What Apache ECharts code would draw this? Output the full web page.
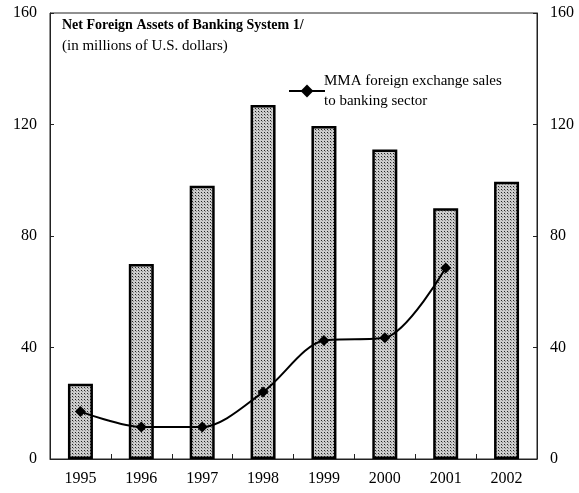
<!DOCTYPE html>
<html>
<head>
<meta charset="utf-8">
<script src="https://cdn.jsdelivr.net/npm/echarts@6/dist/echarts.min.js"></script>
<style>
  html, body { margin: 0; padding: 0; background: #fff; }
  #chart { width: 579px; height: 493px; }
</style>
</head>
<body>
<div id="chart"></div>
<script>
const years = ['1995', '1996', '1997', '1998', '1999', '2000', '2001', '2002'];
const netForeignAssets = [27, 70, 98, 127, 119.5, 111, 90, 99.5];
const mmaSales = [17, 11.5, 11.5, 24, 42.5, 43.5, 68.5, null];
const yTicks = [0, 40, 80, 120, 160];

// dotted fill like the printed screen
function dotPattern() {
    const c = document.createElement('canvas');
    c.width = 3;
    c.height = 3;
    const ctx = c.getContext('2d');
    ctx.fillStyle = '#cccccc';
    ctx.fillRect(0, 0, 3, 3);
    ctx.fillStyle = '#222';
    ctx.fillRect(0, 0, 1, 1);
    ctx.fillStyle = '#888';
    ctx.fillRect(1, 1, 1, 1);
    return c;
}

const chart = echarts.init(document.getElementById('chart'));
const serif = '"Liberation Serif", "Times New Roman", serif';

const yAxisBase = {
    type: 'value',
    min: yTicks[0],
    max: yTicks[yTicks.length - 1],
    interval: 40,
    axisLine: { show: true, lineStyle: { color: '#222', width: 1 } },
    axisTick: { show: true, inside: true, length: 4, lineStyle: { color: '#222' } },
    splitLine: { show: false },
    axisLabel: { color: '#000', fontFamily: serif, fontSize: 16, margin: 13 }
};

chart.setOption({
    animation: false,
    grid: { left: 50, right: 42, top: 13, bottom: 34, show: true, borderColor: '#222', borderWidth: 1 },
    graphic: [
        {
            type: 'text', left: 62, top: 18,
            style: { text: 'Net Foreign Assets of Banking System 1/', font: 'bold 14px ' + serif, fill: '#000' }
        },
        {
            type: 'text', left: 62, top: 39,
            style: { text: '(in millions of U.S. dollars)', font: '15px ' + serif, fill: '#000' }
        }
    ],
    legend: {
        show: true,
        left: 283,
        top: 66,
        itemWidth: 36,
        itemHeight: 16,
        itemGap: 4,
        textStyle: { fontFamily: serif, fontSize: 15, color: '#000', lineHeight: 20, padding: [0, 0, 0, -6] },
        data: ['MMA foreign exchange sales\nto banking sector']
    },
    xAxis: {
        type: 'category',
        data: years,
        axisLine: { lineStyle: { color: '#222' } },
        axisTick: { show: true, inside: true, length: 5, lineStyle: { color: '#222' } },
        axisLabel: { color: '#000', fontFamily: serif, fontSize: 16, margin: 12 }
    },
    yAxis: [
        Object.assign({}, yAxisBase, { position: 'left' }),
        Object.assign({}, yAxisBase, { position: 'right' })
    ],
    series: [
        {
            name: 'Net foreign assets',
            type: 'bar',
            data: netForeignAssets,
            barWidth: 25,
            itemStyle: {
                color: { image: dotPattern(), repeat: 'repeat' },
                borderColor: '#000',
                borderWidth: 2.5
            }
        },
        {
            name: 'MMA foreign exchange sales\nto banking sector',
            type: 'line',
            data: mmaSales,
            smooth: 0.3,
            symbol: 'diamond',
            symbolSize: 11,
            lineStyle: { color: '#000', width: 2 },
            itemStyle: { color: '#000' }
        }
    ]
});
</script>
</body>
</html>
